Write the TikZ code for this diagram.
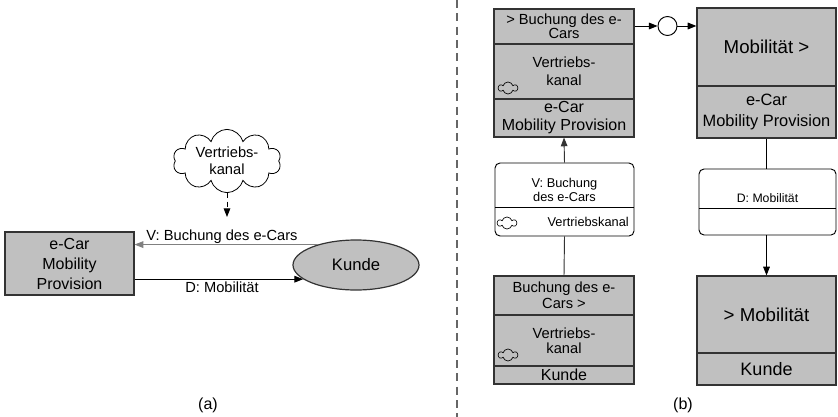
\documentclass[tikz,border=0pt]{standalone}
\usepackage{fontspec}
\setmainfont{Liberation Sans}
\usetikzlibrary{arrows.meta,shapes.geometric,shapes.symbols,calc}
\newlength\pxl
\setlength\pxl{0.75pt}
\definecolor{boxfill}{HTML}{C0C0C0}
\definecolor{boxline}{HTML}{333333}
\newcommand\fs[2]{\fontsize{#1}{#2}\selectfont}
\begin{document}
\begin{tikzpicture}[x=0.75pt,y=-0.75pt,
  tip/.style={-{Triangle[length=6.5pt,width=5pt]}},
  sec/.style={draw=boxline,line width=0.9pt,fill=boxfill,inner sep=0pt,align=center},
  sec1/.style={sec,minimum width=140\pxl},
  sec2/.style={sec,minimum width=139\pxl},
  flow/.style={draw=black,line width=0.7pt,fill=white,rounded corners=5\pxl,inner sep=0pt},
  txt/.style={inner sep=0pt,align=center},
  mini/.style={cloud,cloud puffs=6,aspect=1.6,draw=black,line width=0.5pt,
    minimum width=19\pxl,minimum height=12\pxl,inner sep=0pt},
  conn/.style={draw=black,line width=0.7pt}]
\useasboundingbox (0,0) rectangle (838,417);

% ---------- (a) ----------
\node[sec,minimum width=129\pxl,minimum height=63\pxl,font=\fs{12}{15}] (lbox) at (69.5,263.5)
  {e-Car\\Mobility\\Provision};
\node[ellipse,draw=boxline,line width=0.9pt,fill=boxfill,minimum width=126\pxl,
  minimum height=50\pxl,inner sep=0pt,font=\fs{12.5}{15}] (kunde) at (356,265) {Kunde};
\node[cloud,cloud puffs=10,aspect=2,draw=black,line width=0.6pt,fill=white,
  minimum width=108\pxl,minimum height=55\pxl,inner sep=0pt,align=center,
  font=\fs{11}{12.75}] (kanal) at (227,161) {Vertriebs-\\kanal};
\coordinate (kanalend) at (227,217);
\draw[conn,dashed,dash pattern=on 4pt off 2.5pt,tip] (kanal.south) -- (kanalend);

\draw[draw=gray,line width=0.6pt,tip] (kunde.152) -- (lbox.east |- kunde.152);
\draw[conn,tip] (lbox.east |- kunde.195) -- (kunde.195);
\node[txt,font=\fs{11}{13}] (vlab) at (222,237) {V: Buchung des e-Cars};
\node[txt,font=\fs{11}{13}] (dlab) at (222,287) {D: Mobilität};

\node[txt,font=\fs{12}{14}] (capa) at (208,405) {(a)};

% ---------- divider ----------
\coordinate (divtop) at (457,0);
\coordinate (divbot) at (457,417);
\draw[draw=gray!80!black,line width=1pt,dash pattern=on 6pt off 4pt] (divtop) -- (divbot);

% ---------- (b) left column ----------
\node[sec1,minimum height=35\pxl,font=\fs{11}{10.5}] (b1a) at (564,26.5) {> Buchung des e-\\Cars};
\node[sec1,minimum height=55\pxl,font=\fs{11}{13.5}] (b1b) at (564,71.5) {Vertriebs-\\kanal};
\node[sec1,minimum height=38\pxl,font=\fs{12}{13.5}] (b1c) at (564,118) {e-Car\\Mobility Provision};
\node[mini] (b1cloud) at (508,88) {};

\node[flow,minimum width=139\pxl,minimum height=73\pxl] (vbox) at (564.5,199.5) {};
\coordinate (vdivl) at (495,207);
\coordinate (vdivr) at (634,207);
\draw[line width=0.7pt] (vdivl) -- (vdivr);
\node[txt,font=\fs{9.6}{10.5}] (vboxt) at (564.5,190) {V: Buchung\\des e-Cars};
\node[txt,anchor=east,font=\fs{9.6}{10.5}] (vboxk) at (629,221.5) {Vertriebskanal};
\node[mini] (vcloud) at (507,223) {};

\node[sec1,minimum height=39\pxl,font=\fs{11}{12}] (b4a) at (564,295.5) {Buchung des e-\\Cars >};
\node[sec1,minimum height=51\pxl,font=\fs{11}{11.25}] (b4b) at (564,340.5) {Vertriebs-\\kanal};
\node[sec1,minimum height=18\pxl,font=\fs{12}{13}] (b4c) at (564,375) {Kunde};
\node[mini] (b4cloud) at (508,355) {};

\draw[draw=boxline,line width=0.7pt,tip] (vbox.north) -- (b1c.south);
\draw[draw=boxline,line width=0.7pt] (b4a.north) -- (vbox.south);

% ---------- (b) right column ----------
\node[circle,draw=black,line width=0.7pt,fill=white,minimum size=19\pxl,inner sep=0pt] (junc) at (667.5,26) {};
\node[sec2,minimum height=78\pxl,font=\fs{14}{16}] (b2a) at (766.5,47) {Mobilität >};
\node[sec2,minimum height=52\pxl,font=\fs{12.3}{15.5}] (b2b) at (766.5,112) {e-Car\\Mobility Provision};

\draw[conn,tip] (b1a.east |- junc.west) -- (junc.west);
\draw[conn,tip] (junc.east) -- (b2a.west |- junc.east);

\node[flow,minimum width=137\pxl,minimum height=66\pxl] (dbox) at (767.5,202) {};
\coordinate (ddivl) at (699,208);
\coordinate (ddivr) at (836,208);
\draw[line width=0.7pt] (ddivl) -- (ddivr);
\node[txt,font=\fs{9.2}{10.5}] (dboxt) at (767.5,198) {D: Mobilität};

\node[sec2,minimum height=77\pxl,font=\fs{14}{16}] (b3a) at (766.5,314.5) {> Mobilität};
\node[sec2,minimum height=32\pxl,font=\fs{13.5}{15}] (b3b) at (766.5,369) {Kunde};

\draw[conn] (b2b.south) -- (b2b.south |- dbox.north);
\draw[conn,tip] (b3a.north |- dbox.south) -- (b3a.north);

\node[txt,font=\fs{12}{14}] (capb) at (683,405) {(b)};
\end{tikzpicture}
\end{document}
